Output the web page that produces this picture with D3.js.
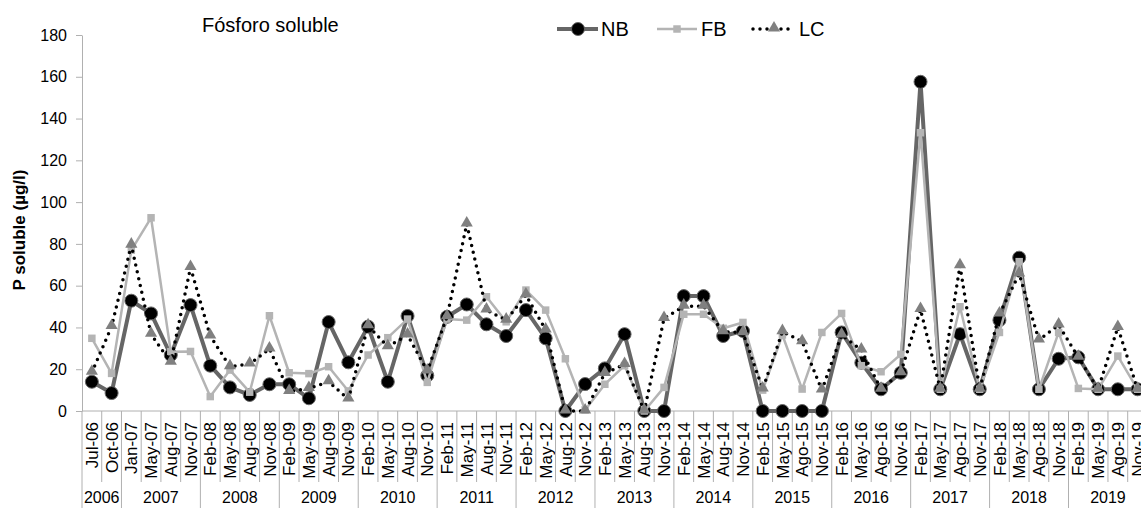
<!DOCTYPE html>
<html>
<head>
<meta charset="utf-8">
<script src="https://cdn.jsdelivr.net/npm/d3@7"></script>
<style>
  body { margin: 0; background: #fff; }
  text { font-family: "Liberation Sans", Arial, sans-serif; fill: #000; }
</style>
</head>
<body>
<div id="chart"></div>
<script>
var categories = ["Jul-06","Oct-06",
  "Jan-07","May-07","Aug-07","Nov-07",
  "Feb-08","May-08","Aug-08","Nov-08",
  "Feb-09","May-09","Aug-09","Nov-09",
  "Feb-10","May-10","Aug-10","Nov-10",
  "Feb-11","May-11","Aug-11","Nov-11",
  "Feb-12","May-12","Aug-12","Nov-12",
  "Feb-13","May-13","Aug-13","Nov-13",
  "Feb-14","May-14","Aug-14","Nov-14",
  "Feb-15","May-15","Ago-15","Nov-15",
  "Feb-16","May-16","Ago-16","Nov-16",
  "Feb-17","May-17","Ago-17","Nov-17",
  "Feb-18","May-18","Ago-18","Nov-18",
  "Feb-19","May-19","Ago-19","Nov-19"];
var years = ["2006","2007","2008","2009","2010","2011","2012","2013","2014","2015","2016","2017","2018","2019"];
var yTicks = [0, 20, 40, 60, 80, 100, 120, 140, 160, 180];

var nb = [14.0, 8.6, 52.8, 46.7, 26.8, 50.7, 21.7, 11.3, 7.7, 12.8, 12.8, 6.1, 42.6, 23.3, 40.4, 14.0,
  45.5, 17.0, 45.1, 51.0, 41.5, 35.9, 48.3, 34.8, 0, 12.9, 20.4, 36.8, 0, 0, 55.0, 55.0, 35.9, 38.3,
  0, 0, 0, 0, 37.6, 23.1, 10.4, 18.3, 157.6, 10.4, 36.8, 10.4, 43.5, 73.4, 10.4, 25.0, 25.7, 10.4, 10.4, 10.4];
var fb = [34.8, 18.0, 77, 92.5, 28.4, 28.5, 6.9, 19.6, 9.0, 45.6, 18.3, 17.9, 21.2, 9.6, 26.8, 35.1,
  44, 13.7, 44.0, 43.5, 54.7, 42.7, 57.9, 48.3, 25.0, 0.5, 12.8, 21.7, 0, 11.3, 46.3, 46.3, 39.6, 42.4,
  10, 36.4, 10.5, 37.6, 46.7, 21.7, 18.8, 27.1, 133.2, 10.4, 49.9, 10.4, 37.6, 71.5, 10.4, 37.6, 10.8, 10.4, 26.3, 10.4];
var lc = [18.5, 40.4, 79.4, 36.7, 23.3, 68.7, 35.9, 21.2, 22.5, 29.7, 9.3, 10.8, 14.0, 5.7, 40.8, 30.8,
  36.4, 19.1, 45.1, 89.5, 48.3, 43.5, 55.5, 38.8, 0, 0, 18.0, 22.3, 0, 44.3, 50.2, 50.2, 38, 37.5,
  10.5, 38.0, 33.2, 10, 36.4, 29.2, 10.4, 18.3, 48.6, 10.4, 69.5, 10.4, 46.4, 65.6, 34.0, 41.2, 25.7, 10.4, 40.0, 10.4];

var width = 1141, height = 508;
var plotLeft = 82, plotTop = 35, plotBottom = 411;
var step = 19.73;
var gridColor = "#b0b0b0";

var svg = d3.select("#chart").append("svg")
  .attr("width", width)
  .attr("height", height);

var x = d3.scaleBand()
  .domain(categories)
  .range([plotLeft, plotLeft + step * categories.length])
  .padding(0);

var y = d3.scaleLinear()
  .domain([0, 180])
  .range([plotBottom, plotTop]);

// y axis
var yAxis = svg.append("g")
  .attr("transform", "translate(" + plotLeft + ",0)")
  .call(d3.axisLeft(y).tickValues(yTicks).tickSize(6).tickSizeOuter(0).tickPadding(9));
yAxis.select(".domain").attr("stroke", gridColor);
yAxis.selectAll(".tick line").attr("stroke", gridColor);
yAxis.selectAll(".tick text")
  .style("font-family", "'Liberation Sans', Arial, sans-serif")
  .style("font-size", "16px")
  .attr("fill", "#000");

// x axis line
svg.append("line")
  .attr("x1", plotLeft).attr("x2", x.range()[1])
  .attr("y1", plotBottom).attr("y2", plotBottom)
  .attr("stroke", gridColor);

// category labels
var xAxis = svg.append("g")
  .attr("transform", "translate(0," + plotBottom + ")")
  .call(d3.axisBottom(x).tickSize(0).tickSizeOuter(0));
xAxis.select(".domain").remove();
xAxis.selectAll(".tick text")
  .attr("transform", "translate(0,11) rotate(-90)")
  .attr("x", 0).attr("y", 0).attr("dy", "0.36em")
  .attr("text-anchor", "end")
  .style("font-family", "'Liberation Sans', Arial, sans-serif")
  .style("font-size", "17px")
  .attr("fill", "#000");

// separators between categories and between years
var yearOf = function (c) { return "20" + c.slice(-2); };
categories.forEach(function (c, i) {
  var isYearStart = i === 0 || yearOf(categories[i - 1]) !== yearOf(c);
  svg.append("line")
    .attr("x1", x(c)).attr("x2", x(c))
    .attr("y1", plotBottom).attr("y2", isYearStart ? height : 482)
    .attr("stroke", gridColor);
});

years.forEach(function (yr) {
  var cats = categories.filter(function (c) { return yearOf(c) === yr; });
  var x0 = x(cats[0]), x1 = x(cats[cats.length - 1]) + x.bandwidth();
  svg.append("text")
    .attr("x", (x0 + x1) / 2)
    .attr("y", 503)
    .attr("text-anchor", "middle")
    .style("font-size", "16px")
    .text(yr);
});

// y axis title
svg.append("text")
  .attr("transform", "translate(19,230) rotate(-90)")
  .attr("text-anchor", "middle")
  .attr("dy", "0.35em")
  .style("font-size", "17px")
  .style("font-weight", "bold")
  .text("P soluble (µg/l)");

// title
svg.append("text")
  .attr("x", 202).attr("y", 32)
  .style("font-size", "20px")
  .text("Fósforo soluble");

var cx = function (d, i) { return x(categories[i]) + x.bandwidth() / 2; };
var line = d3.line().x(cx).y(function (d) { return y(d); });

var tri = d3.symbol().type(d3.symbolTriangle).size(64);
var sq = d3.symbol().type(d3.symbolSquare).size(56);

// NB
svg.append("path").datum(nb)
  .attr("d", line).attr("fill", "none")
  .attr("stroke", "#666").attr("stroke-width", 4).attr("stroke-linejoin", "round");
svg.selectAll(".nb").data(nb).enter().append("circle")
  .attr("cx", cx).attr("cy", function (d) { return y(d); })
  .attr("r", 6.5).attr("fill", "#000").attr("stroke", "#666").attr("stroke-width", 1);

// FB
svg.append("path").datum(fb)
  .attr("d", line).attr("fill", "none")
  .attr("stroke", "#b4b4b4").attr("stroke-width", 2.5).attr("stroke-linejoin", "round");
svg.selectAll(".fb").data(fb).enter().append("path")
  .attr("d", sq)
  .attr("transform", function (d, i) { return "translate(" + cx(d, i) + "," + y(d) + ")"; })
  .attr("fill", "#b4b4b4");

// LC
svg.append("path").datum(lc)
  .attr("d", line).attr("fill", "none")
  .attr("stroke", "#000").attr("stroke-width", 3.5)
  .attr("stroke-dasharray", "0 7").attr("stroke-linecap", "round");
svg.selectAll(".lc").data(lc).enter().append("path")
  .attr("d", tri)
  .attr("transform", function (d, i) { return "translate(" + cx(d, i) + "," + (y(d) - 1) + ")"; })
  .attr("fill", "#808080");

// legend
var lg = svg.append("g");
lg.append("line").attr("x1", 557).attr("x2", 598).attr("y1", 29).attr("y2", 29)
  .attr("stroke", "#666").attr("stroke-width", 4);
lg.append("circle").attr("cx", 578).attr("cy", 29).attr("r", 6.5)
  .attr("fill", "#000").attr("stroke", "#666");
lg.append("text").attr("x", 601).attr("y", 36).style("font-size", "20px").text("NB");

lg.append("line").attr("x1", 657).attr("x2", 697).attr("y1", 29).attr("y2", 29)
  .attr("stroke", "#b4b4b4").attr("stroke-width", 2.5);
lg.append("path").attr("d", sq).attr("transform", "translate(677,29)").attr("fill", "#b4b4b4");
lg.append("text").attr("x", 701).attr("y", 36).style("font-size", "20px").text("FB");

lg.append("line").attr("x1", 753).attr("x2", 795).attr("y1", 29).attr("y2", 29)
  .attr("stroke", "#000").attr("stroke-width", 3.5)
  .attr("stroke-dasharray", "0 7").attr("stroke-linecap", "round");
lg.append("path").attr("d", tri).attr("transform", "translate(774,28)").attr("fill", "#808080");
lg.append("text").attr("x", 799).attr("y", 36).style("font-size", "20px").text("LC");
</script>
</body>
</html>
